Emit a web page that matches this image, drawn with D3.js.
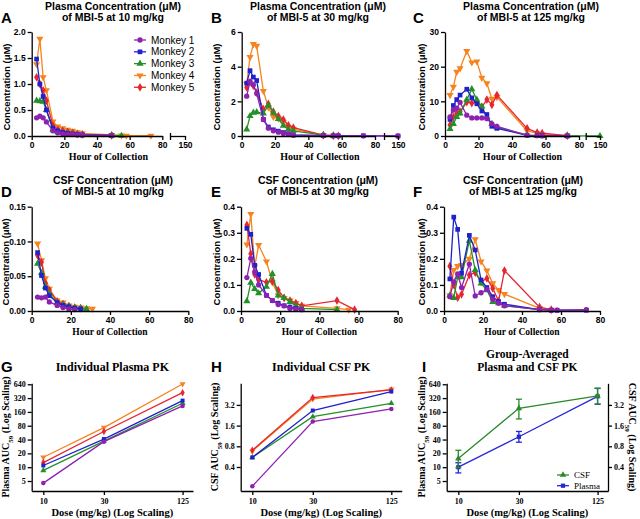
<!DOCTYPE html>
<html><head><meta charset="utf-8">
<script src="https://cdn.jsdelivr.net/npm/d3@7"></script>
<style>body{margin:0;background:#fff}</style>
</head><body><svg id="c" width="640" height="519"></svg>
<script>
// ---------- DATA ----------
const times = [3,5,7,9,13,16,19,22,25,28,31,49,55,58,73,150];
const monkeys = ["Monkey 1","Monkey 2","Monkey 3","Monkey 4","Monkey 5"];
const colors = ["#8E22B0","#2020CC","#24902A","#F5841F","#E62630"];

// Plasma 10 mg/kg (A)
const pA1 = [0.35,0.38,0.35,0.27,0.10,0.06,0.04,0.03,0.03,0.02,0.02,0.01];
const pA2 = [1.48,1.00,0.76,0.50,0.15,0.10,0.07,0.05,0.04,0.03,0.02,0.01];
const pA3 = [0.68,0.67,0.66,0.50,0.12,0.08,0.06,0.05,0.04,0.03,0.02,0.01,0.005];
const pA4 = [1.38,1.87,1.13,0.88,0.28,0.18,0.15,0.12,0.10,0.07,0.05,0.02,0.01,0.005,0.005];
const pA5 = [1.13,1.00,0.88,0.68,0.20,0.12,0.10,0.08,0.06,0.04,0.03,0.01];
// Plasma 30 mg/kg (B)
const pB1 = [2.30,3.15,2.95,2.45,0.95,0.45,0.30,0.22,0.15,0.10,0.05,0.02,0.01,0.01,0.01,0.0];
const pB2 = [3.05,3.77,3.40,3.20,0.96,0.52,0.36,0.28,0.20,0.12,0.06,0.02,0.01,0.01,0.01,0.0];
const pB3 = [0.38,1.15,1.35,1.38,1.30,1.78,1.35,0.98,0.60,0.38,0.30,0.05,0.02];
const pB4 = [3.00,4.55,5.30,5.20,2.60,1.65,1.10,1.00,0.80,0.50,0.40,0.05,0.02];
const pB5 = [2.80,3.10,2.90,2.50,1.55,1.85,1.40,1.15,0.95,0.62,0.48,0.05,0.02,0.01];
// Plasma 125 mg/kg (C)
const pC1 = [5.5,7.5,8.0,9.7,6.0,5.2,5.2,5.2,5.0,3.5,2.8,0.2,0.1,0.05,0.02];
const pC2 = [4.8,8.8,10.5,11.8,13.5,11.0,9.3,7.2,6.2,2.8,2.2,0.2,0.1,0.05,0.02];
const pC3 = [2.0,3.5,5.5,6.5,10.5,13.5,10.5,8.5,5.5,3.5,2.5,0.3,0.1,0.05,0.02,0.0];
const pC4 = [11.8,14.2,18.5,19.5,24.5,21.2,21.5,16.8,15.2,10.7,11.2,1.5,0.8,0.5,0.1];
const pC5 = [3.2,5.5,6.5,7.0,9.8,9.5,9.8,8.3,10.5,9.0,11.8,2.2,1.0,0.8,0.1];
// CSF 10 mg/kg (D)
const cD1 = [0.020,0.019,0.020,0.013,0.008,0.005,0.003,0.002];
const cD2 = [0.084,0.051,0.033,0.022,0.012,0.008,0.006,0.004,0.003];
const cD3 = [0.068,0.055,0.035,0.025,0.012,0.009,0.007,0.005,0.004,0.003];
const cD4 = [0.097,0.073,0.047,0.032,0.015,0.012,0.008,0.006,0.005,0.004,0.003];
const cD5 = [0.080,0.070,0.040,0.030,0.014,0.010,0.007,0.005,0.004];
// CSF 30 mg/kg (E)
const cE1 = [0.128,0.202,0.150,0.100,0.060,0.040,0.025,0.020,0.010,0.008,0.005];
const cE2 = [0.317,0.294,0.175,0.140,0.060,0.040,0.030,0.020,0.015,0.010,0.005];
const cE3 = [0.038,0.109,0.085,0.068,0.093,0.142,0.060,0.050,0.035,0.020,0.010,0.005];
const cE4 = [0.255,0.372,0.170,0.253,0.190,0.110,0.060,0.050,0.040,0.030,0.020,0.010,0.005];
const cE5 = [0.330,0.220,0.140,0.120,0.110,0.115,0.080,0.050,0.040,0.030,0.020,0.040,null,0.005];
// CSF 125 mg/kg (F)
const cF1 = [0.055,0.112,0.142,0.090,0.180,0.058,0.070,0.083,0.045,0.030,0.020,0.005,0.003,0.003,0.005];
const cF2 = [0.123,0.360,0.313,0.145,0.290,0.234,0.119,0.090,0.055,0.036,0.026,0.005,0.003,0.003,0.003];
const cF3 = [0.060,0.050,0.130,0.130,0.270,0.157,0.106,0.080,0.035,0.030,0.020,0.005];
const cF4 = [0.060,0.157,0.172,0.176,0.200,0.275,0.190,0.155,0.106,0.080,0.065,0.010,0.005];
const cF5 = [0.172,0.100,0.051,0.064,0.138,0.147,0.112,0.125,0.087,0.038,0.155,0.015,0.005];

// AUC vs dose (G, H, I)
const doses = [10,30,125];
const aucPlasma1 = [4.5,36,216], aucPlasma2 = [10.9,41,282], aucPlasma3 = [8.5,37,247], aucPlasma4 = [16.5,73,650], aucPlasma5 = [12.6,60,420];
const aucCSF1 = [0.21,1.83,2.8], aucCSF2 = [0.55,2.65,5.0], aucCSF3 = [0.55,2.16,3.38], aucCSF4 = [0.68,3.9,5.4], aucCSF5 = [0.70,4.1,5.3];
const grpCSFMean = [0.53,2.86,4.33], grpCSFLo = [0.39,2.0,3.3], grpCSFHi = [0.70,3.87,5.6];
const grpPlasmaMean = [10,46,350], grpPlasmaLo = [7.5,35,235], grpPlasmaHi = [12.5,60,520];

const plasmaTicks = [5,10,20,40,80,160,320,640];
const csfTicks = [0.4,0.8,1.6,3.2];

// ---------- DRAWING ----------
const svg = d3.select("#c");
const SANS = "'Liberation Sans', Arial, sans-serif";
const SERIF = "'Liberation Serif', 'Times New Roman', serif";
const types = [d3.symbolCircle, d3.symbolSquare, d3.symbolTriangle, d3.symbolTriangle, d3.symbolDiamond];
const order = [3,4,2,1,0];

function styleAxis(g, font, size) {
  g.selectAll("path,line").attr("stroke","#000").attr("stroke-width",1.3);
  g.selectAll("text").attr("font-family",font).attr("font-size",size).attr("font-weight","bold").attr("fill","#000");
}
function text(x,y,s,opt={}) {
  const t = svg.append("text").attr("x",x).attr("y",y).text(s)
    .attr("font-family",opt.font||SANS).attr("font-size",opt.size||10)
    .attr("font-weight",opt.weight||"bold").attr("text-anchor",opt.anchor||"middle").attr("fill","#000");
  if (opt.rot) t.attr("transform",`rotate(${opt.rot},${x},${y})`);
  return t;
}
function marker(sel, i, size, xf, yf) {
  sel.attr("d", d3.symbol(types[i], size)())
     .attr("transform", d => `translate(${xf(d)},${yf(d)})${i===3?" rotate(180)":""}`)
     .attr("fill", colors[i]);
}

function timePanel(c) {
  const x = c.brk ? d3.scaleLinear().domain([0,80,140,150]).range([c.x0,c.x80,c.xb1,c.xb2])
                  : d3.scaleLinear().domain([0,80]).range([c.x0,c.x80]);
  const y = d3.scaleLinear().domain([0,c.yMax]).range([c.yBot,c.yTop]);
  const g = svg.append("g");
  order.forEach(i => {
    const pts = c.data[i].map((v,j)=>({t:times[j], v})).filter(d=>d.v!=null);
    g.append("path").datum(pts)
      .attr("d", d3.line().x(d=>x(d.t)).y(d=>y(d.v)))
      .attr("fill","none").attr("stroke",colors[i]).attr("stroke-width",1.3);
    g.selectAll(null).data(pts).join("path").call(marker, i, 22, d=>x(d.t), d=>y(d.v));
  });
  const ya = g.append("g").attr("transform",`translate(${c.x0},0)`)
    .call(d3.axisLeft(y).tickValues(c.yTicks).tickFormat(d3.format(c.yFmt)).tickSize(4).tickSizeOuter(0).tickPadding(2));
  styleAxis(ya, SANS, 8.5);
  const x1 = d3.scaleLinear().domain([0,80]).range([c.x0,c.x80]);
  const xa = g.append("g").attr("transform",`translate(0,${c.yBot})`)
    .call(d3.axisBottom(x1).tickValues([0,20,40,60,80]).tickSize(4).tickSizeOuter(0).tickPadding(2));
  styleAxis(xa, SANS, 8.5);
  if (c.brk) {
    const x2 = d3.scaleLinear().domain([140,150]).range([c.xb1,c.xb2]);
    const xb = g.append("g").attr("transform",`translate(0,${c.yBot})`)
      .call(d3.axisBottom(x2).tickValues([140,150]).tickFormat(d=>d===150?"150":"").tickSize(4).tickSizeOuter(0).tickPadding(2));
    styleAxis(xb, SANS, 8.5);
    xb.selectAll(".tick").filter(d=>d===140).select("line").attr("y1",-3);
  }
  text(c.tx, c.ty1, c.title1, {size:10.5});
  text(c.tx, c.ty2, c.title2, {size:10.5});
  text(c.lx, c.ty2+2, c.letter, {size:15, anchor:"start"});
  text(c.ylx, (c.yTop+c.yBot)/2+3, "Concentration (\u03BCM)", {size:9.5, rot:-90});
  text((c.x0+(c.brk?c.xb2:c.x80))/2, c.yBot+c.xlOff, "Hour of Collection", {font:SERIF, size:c.xlSize});
}

// Row 1
const row1 = {yTop:32, yBot:136, brk:true, ty1:10, ty2:21, xlOff:23.5, xlSize:10};
timePanel({...row1, x0:31.7, x80:162.3, xb1:170, xb2:185, yMax:2.0, yTicks:[0,0.5,1.0,1.5,2.0], yFmt:".1f",
  data:[pA1,pA2,pA3,pA4,pA5], title1:"Plasma Concentration (\u03BCM)", title2:"of MBI-5 at 10 mg/kg", tx:113, lx:1, ylx:9.5, letter:"A"});
timePanel({...row1, x0:241.7, x80:375, xb1:384, xb2:398, yMax:6, yTicks:[0,2,4,6], yFmt:"d",
  data:[pB1,pB2,pB3,pB4,pB5], title1:"Plasma Concentration (\u03BCM)", title2:"of MBI-5 at 30 mg/kg", tx:318, lx:211, ylx:220, letter:"B"});
timePanel({...row1, x0:445, x80:579, xb1:585.7, xb2:600, yMax:30, yTicks:[0,10,20,30], yFmt:"d",
  data:[pC1,pC2,pC3,pC4,pC5], title1:"Plasma Concentration (\u03BCM)", title2:"of MBI-5 at 125 mg/kg", tx:531, lx:413, ylx:425, letter:"C"});

// Row 2
const row2 = {yTop:206.7, yBot:311, brk:false, ty1:184, ty2:194.5, xlOff:24, xlSize:9.5};
timePanel({...row2, x0:31.7, x80:188.3, yMax:0.15, yTicks:[0,0.05,0.10,0.15], yFmt:".2f",
  data:[cD1,cD2,cD3,cD4,cD5], title1:"CSF Concentration (\u03BCM)", title2:"of MBI-5 at 10 mg/kg", tx:113, lx:1, ylx:9.5, letter:"D"});
timePanel({...row2, x0:241, x80:397.7, yMax:0.4, yTicks:[0,0.1,0.2,0.3,0.4], yFmt:".1f",
  data:[cE1,cE2,cE3,cE4,cE5], title1:"CSF Concentration (\u03BCM)", title2:"of MBI-5 at 30 mg/kg", tx:318, lx:211, ylx:220, letter:"E"});
timePanel({...row2, x0:444, x80:600, yMax:0.4, yTicks:[0,0.1,0.2,0.3,0.4], yFmt:".1f",
  data:[cF1,cF2,cF3,cF4,cF5], title1:"CSF Concentration (\u03BCM)", title2:"of MBI-5 at 125 mg/kg", tx:523, lx:413, ylx:425, letter:"F"});

// Legend (panel A)
{
  const ly = d3.scalePoint().domain(monkeys).range([40,87.3]);
  monkeys.forEach((m,i) => {
    svg.append("line").attr("x1",134).attr("x2",146).attr("y1",ly(m)).attr("y2",ly(m)).attr("stroke",colors[i]).attr("stroke-width",1.3);
    svg.append("path").datum(m).call(marker, i, 22, ()=>140, d=>ly(d));
    text(151, ly(m)+3.5, m, {size:10, weight:"normal", anchor:"start"});
  });
}

// Row 3
const yBot3 = 491, yTop3 = 383.3;
const yPl = d3.scaleLog().base(2).domain([3.03,672]).range([yBot3,yTop3]);
const yCs = d3.scaleLog().base(2).domain([0.179,6.6]).range([yBot3,yTop3]);
function doseAxes(x, x0, x1) {
  const xa = svg.append("g").attr("transform",`translate(0,${yBot3})`)
    .call(d3.axisBottom(x).tickValues(doses).tickFormat(d3.format("d")).tickSize(4).tickSizeOuter(0).tickPadding(3));
  styleAxis(xa, SERIF, 8);
  text((x0+x1)/2, 515.5, "Dose (mg/kg) (Log Scaling)", {font:SERIF, size:10.5});
}
function aucLabel(x, prefix, rot) {
  const t = text(x, 437, "", {font:SERIF, size:10, rot});
  t.append("tspan").text(prefix + " AUC");
  t.append("tspan").attr("baseline-shift","sub").attr("font-size",7).text("59");
  t.append("tspan").text(" (Log Scaling)");
}
function indiv(x0, x1, yScale, ticks, fmt, series, title, letter, lx, prefix) {
  const x = d3.scaleLog().domain([8.1,151]).range([x0,x1]);
  order.forEach(i => {
    const pts = series[i].map((v,j)=>({d:doses[j], v}));
    svg.append("path").datum(pts).attr("d", d3.line().x(d=>x(d.d)).y(d=>yScale(d.v)))
      .attr("fill","none").attr("stroke",colors[i]).attr("stroke-width",1.3);
    svg.selectAll(null).data(pts).join("path").call(marker, i, 16, d=>x(d.d), d=>yScale(d.v));
  });
  const ya = svg.append("g").attr("transform",`translate(${x0},0)`)
    .call(d3.axisLeft(yScale).tickValues(ticks).tickFormat(fmt).tickSize(4).tickSizeOuter(0).tickPadding(2));
  styleAxis(ya, SERIF, 8);
  doseAxes(x, x0, x1);
  text((x0+x1)/2, 371, title, {font:SERIF, size:12});
  text(lx, 372, letter, {size:15, anchor:"start"});
  aucLabel(x0-22.5, prefix, -90);
}
indiv(31.7, 193, yPl, plasmaTicks, d3.format("d"), [aucPlasma1,aucPlasma2,aucPlasma3,aucPlasma4,aucPlasma5], "Individual Plasma PK", "G", 1, "Plasma");
indiv(240.7, 401.7, yCs, csfTicks, d3.format(".1f"), [aucCSF1,aucCSF2,aucCSF3,aucCSF4,aucCSF5], "Individual CSF PK", "H", 211, "CSF");

// Panel I
{
  const x0 = 446.7, x1 = 608;
  const x = d3.scaleLog().domain([8.1,151]).range([x0,x1]);
  const gGreen = "#2A8A2A", gBlue = "#2626D8";
  const groups = [
    {c:gBlue, y:yPl, m:grpPlasmaMean, lo:grpPlasmaLo, hi:grpPlasmaHi, sym:1},
    {c:gGreen, y:yCs, m:grpCSFMean, lo:grpCSFLo, hi:grpCSFHi, sym:2}
  ];
  groups.forEach(gr => {
    const pts = doses.map((d,j)=>({d, v:gr.m[j], lo:gr.lo[j], hi:gr.hi[j]}));
    svg.append("path").datum(pts).attr("d", d3.line().x(d=>x(d.d)).y(d=>gr.y(d.v)))
      .attr("fill","none").attr("stroke",gr.c).attr("stroke-width",1.3);
    const eb = svg.append("g").attr("stroke",gr.c).attr("stroke-width",1.3);
    pts.forEach(p => {
      eb.append("line").attr("x1",x(p.d)).attr("x2",x(p.d)).attr("y1",gr.y(p.lo)).attr("y2",gr.y(p.hi));
      eb.append("line").attr("x1",x(p.d)-3).attr("x2",x(p.d)+3).attr("y1",gr.y(p.lo)).attr("y2",gr.y(p.lo));
      eb.append("line").attr("x1",x(p.d)-3).attr("x2",x(p.d)+3).attr("y1",gr.y(p.hi)).attr("y2",gr.y(p.hi));
    });
    svg.selectAll(null).data(pts).join("path")
      .attr("d", d3.symbol(types[gr.sym], 18)())
      .attr("transform", d=>`translate(${x(d.d)},${gr.y(d.v)})`).attr("fill",gr.c);
  });
  const ya = svg.append("g").attr("transform",`translate(${x0},0)`)
    .call(d3.axisLeft(yPl).tickValues(plasmaTicks).tickFormat(d3.format("d")).tickSize(4).tickSizeOuter(0).tickPadding(2));
  styleAxis(ya, SERIF, 8);
  const yr = svg.append("g").attr("transform",`translate(${x1},0)`)
    .call(d3.axisRight(yCs).tickValues(csfTicks).tickFormat(d3.format(".1f")).tickSize(4).tickSizeOuter(0).tickPadding(2));
  styleAxis(yr, SERIF, 8);
  doseAxes(x, x0, x1);
  text((x0+x1)/2, 358, "Group-Averaged", {font:SERIF, size:11.5});
  text((x0+x1)/2, 371, "Plasma and CSF PK", {font:SERIF, size:11.5});
  text(422, 372, "I", {size:15, anchor:"start"});
  aucLabel(425, "Plasma", -90);
  aucLabel(629, "CSF", 90);
  // legend
  const leg = [{n:"CSF", c:gGreen, sym:2, y:475}, {n:"Plasma", c:gBlue, sym:1, y:485.7}];
  leg.forEach(l => {
    svg.append("line").attr("x1",557).attr("x2",569).attr("y1",l.y).attr("y2",l.y).attr("stroke",l.c).attr("stroke-width",1.3);
    svg.append("path").attr("d", d3.symbol(types[l.sym], 18)()).attr("transform",`translate(563,${l.y})`).attr("fill",l.c);
    text(574, l.y+3, l.n, {font:SERIF, size:9, weight:"normal", anchor:"start"});
  });
}
</script>
</body></html>
